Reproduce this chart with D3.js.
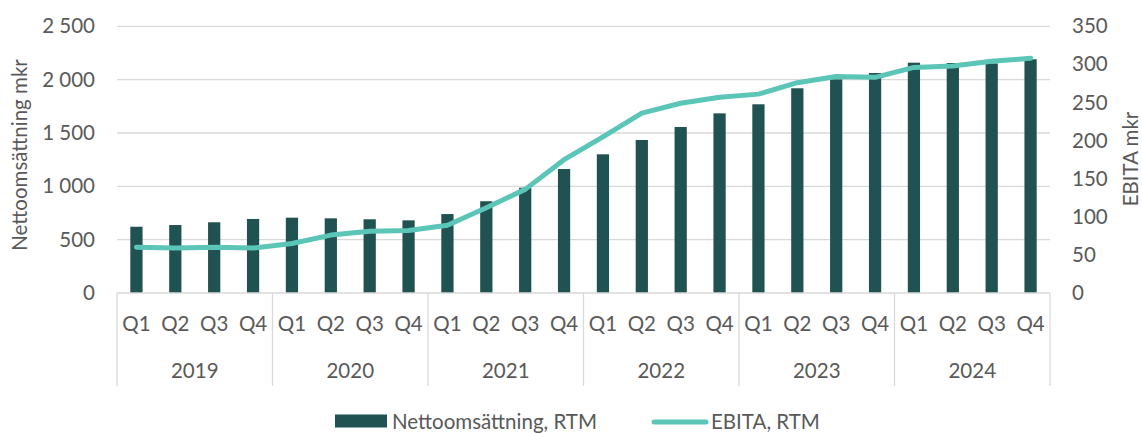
<!DOCTYPE html>
<html><head><meta charset="utf-8">
<script src="https://cdn.jsdelivr.net/npm/d3@7"></script>
<style>body{margin:0;background:#fff}svg{display:block}text{font-family:Lato,"Open Sans",sans-serif;fill:#595959}</style>
</head><body><svg id="c" width="1142" height="433"></svg>
<script>
const years = ["2019","2020","2021","2022","2023","2024"];
const quarters = ["Q1","Q2","Q3","Q4"];
const netSales = [621,637,663,694, 706,700,691,681, 740,860,987,1162, 1300,1434,1556,1684, 1769,1919,2003,2062, 2159,2156,2152,2191];
const ebita = [60,59,60,59, 65,76,81,82, 89,112,136,175, 205,236,249,257, 261,276,284,283, 296,298,304,308];
const leftTicks = [0,500,1000,1500,2000,2500];
const rightTicks = [0,50,100,150,200,250,300,350];
const seriesNames = ["Nettoomsättning, RTM","EBITA, RTM"];

const cats = [];
years.forEach(y => quarters.forEach(q => cats.push(y + "-" + q)));

const FS = "20.5px";
const svg = d3.select("#c");
const L = 117, R = 1050, T = 26.3, B = 293;
const x = d3.scaleBand().domain(cats).range([L, R]).paddingInner(0.685).paddingOuter(0.3425);
const yL = d3.scaleLinear().domain([0,2500]).range([B, T]);
const yR = d3.scaleLinear().domain([0,350]).range([B, T]);
const grid = "#d9d9d9";
const fmt = v => d3.format(",")(v).replace(/,/g, " ");

// gridlines
svg.append("g").selectAll("line").data(leftTicks.slice(1)).join("line")
  .attr("x1", L).attr("x2", R).attr("y1", d => yL(d)).attr("y2", d => yL(d))
  .attr("stroke", grid).attr("stroke-width", 1.3);

// left axis labels
const gl = svg.append("g").attr("transform", `translate(${L},0)`)
  .call(d3.axisLeft(yL).tickValues(leftTicks).tickFormat(fmt).tickSize(0).tickPadding(22));
gl.select(".domain").remove();
gl.selectAll("text").style("font-size",FS).attr("fill","#595959");

// right axis labels
const gr = svg.append("g").attr("transform", `translate(${R},0)`)
  .call(d3.axisRight(yR).tickValues(rightTicks).tickSize(0).tickPadding(22));
gr.select(".domain").remove();
gr.selectAll("text").style("font-size",FS).attr("fill","#595959");

// bars
svg.append("g").selectAll("rect").data(netSales).join("rect")
  .attr("x", (d,i) => x(cats[i])).attr("width", x.bandwidth())
  .attr("y", d => yL(d)).attr("height", d => B - yL(d))
  .attr("fill", "#1f5250");

// line
const line = d3.line().x((d,i) => x(cats[i]) + x.bandwidth()/2).y(d => yR(d));
svg.append("path").datum(ebita).attr("d", line)
  .attr("fill","none").attr("stroke","#5bc5b8").attr("stroke-width",5)
  .attr("stroke-linejoin","round").attr("stroke-linecap","round");

// category axis
svg.append("line").attr("x1", L).attr("x2", R).attr("y1", B).attr("y2", B)
  .attr("stroke", grid).attr("stroke-width", 1.3);
const step = x.step();
const yearBounds = d3.range(years.length + 1).map(i => L + i * 4 * step);
svg.append("g").selectAll("line").data(yearBounds).join("line")
  .attr("x1", d => d).attr("x2", d => d).attr("y1", B).attr("y2", 386)
  .attr("stroke", grid).attr("stroke-width", 1.3);
svg.append("g").selectAll("text").data(cats).join("text")
  .attr("x", d => x(d) + x.bandwidth()/2).attr("y", 330.5)
  .attr("text-anchor","middle").style("font-size",FS)
  .text(d => d.split("-")[1]);
svg.append("g").selectAll("text").data(years).join("text")
  .attr("x", (d,i) => L + (i*4+2) * step).attr("y", 377.5)
  .attr("text-anchor","middle").style("font-size",FS).text(d => d);

// axis titles
svg.append("text").attr("transform","translate(27,155) rotate(-90)")
  .attr("text-anchor","middle").style("font-size",FS).text("Nettoomsättning mkr");
svg.append("text").attr("transform","translate(1138,159) rotate(-90)")
  .attr("text-anchor","middle").style("font-size",FS).text("EBITA mkr");

// legend
const lg = svg.append("g");
lg.append("rect").attr("x",335).attr("y",414.5).attr("width",52).attr("height",13).attr("fill","#1f5250");
lg.append("text").attr("x",392).attr("y",428.5).style("font-size",FS).text(seriesNames[0]);
lg.append("line").attr("x1",654).attr("x2",706).attr("y1",422).attr("y2",422)
  .attr("stroke","#5bc5b8").attr("stroke-width",5).attr("stroke-linecap","round");
lg.append("text").attr("x",711).attr("y",428.5).style("font-size",FS).text(seriesNames[1]);
</script></body></html>
